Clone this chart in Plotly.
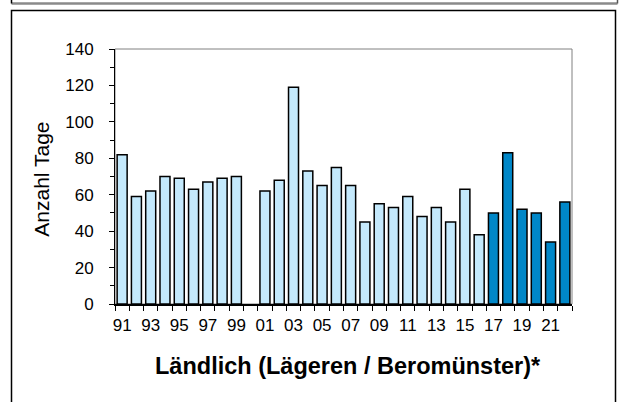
import plotly.graph_objects as go

years = [str(y) for y in range(1991, 2023)]
values = [82, 59, 62, 70, 69, 63, 67, 69, 70, None, 62, 68, 119, 73, 65, 75, 65, 45,
          55, 53, 59, 48, 53, 45, 63, 38, 50, 83, 52, 50, 34, 56]
tick_labels = [y[2:] if int(y) % 2 == 1 else "" for y in years]
split = 26  # 2017 onwards drawn in dark blue

LIGHT = "#C4E9FC"
DARK = "#0087C8"

light = [(x, v) for x, v in zip(years[:split], values[:split]) if v is not None]
dark = [(x, v) for x, v in zip(years[split:], values[split:]) if v is not None]

fig = go.Figure()
fig.add_trace(go.Bar(x=[p[0] for p in light], y=[p[1] for p in light],
                     marker=dict(color=LIGHT, line=dict(color="black", width=1.5))))
fig.add_trace(go.Bar(x=[p[0] for p in dark], y=[p[1] for p in dark],
                     marker=dict(color=DARK, line=dict(color="black", width=1.5))))

L, R, T, B = 115, 50, 49, 98
W, H = 622, 402
pw, ph = W - L - R, H - T - B

def px(x):
    return (x - L) / pw

def py(y):
    return (H - B - y) / ph

fig.update_layout(
    width=W, height=H,
    margin=dict(l=L, r=R, t=T, b=B, pad=0),
    plot_bgcolor="white", paper_bgcolor="white",
    showlegend=False, bargap=0.3, barmode="overlay",
    font=dict(family="Liberation Sans, Arial, sans-serif", size=17, color="black"),
    xaxis=dict(
        type="category", categoryorder="array", categoryarray=years,
        tickvals=years, ticktext=tick_labels, tickson="boundaries",
        ticks="outside", ticklen=5, tickcolor="black", tickwidth=1,
        showline=True, linecolor="black", linewidth=1.5, showgrid=False,
        tickangle=0, tickfont=dict(size=17), ticklabelstandoff=5,
        range=[-0.5, len(years) - 0.5],
    ),
    yaxis=dict(
        range=[0, 140], tickvals=list(range(0, 141, 20)),
        ticks="outside", ticklen=5, tickcolor="black", tickwidth=1,
        minor=dict(tickvals=list(range(10, 140, 20)), ticks="outside", ticklen=4, tickcolor="black", tickwidth=1, showgrid=False),
        showline=True, linecolor="black", linewidth=1, showgrid=False, zeroline=False,
        ticklabelstandoff=12, tickfont=dict(size=17),
    ),
    shapes=[
        dict(type="rect", xref="paper", yref="paper", x0=0, x1=1, y0=0, y1=1,
             line=dict(color="#808080", width=1), layer="below"),
        dict(type="rect", xref="paper", yref="paper", x0=px(11.5), x1=px(615.5), y0=py(410), y1=py(10.5),
             line=dict(color="black", width=1.5), layer="below"),
        dict(type="line", xref="paper", yref="paper", x0=px(11.5), x1=px(617.5), y0=py(3.5), y1=py(3.5),
             line=dict(color="#8a8a8a", width=2.5)),
        dict(type="line", xref="paper", yref="paper", x0=px(11.5), x1=px(11.5), y0=py(3.5), y1=py(-5),
             line=dict(color="black", width=1.5)),
        dict(type="line", xref="paper", yref="paper", x0=px(617.5), x1=px(617.5), y0=py(3.5), y1=py(-5),
             line=dict(color="#555555", width=1.5)),
    ],
    annotations=[
        dict(text="Anzahl Tage", xref="paper", yref="paper", x=px(40.7), y=py(179), textangle=-90,
             showarrow=False, xanchor="center", yanchor="middle", font=dict(size=21)),
        dict(text="<b>Ländlich (Lägeren / Beromünster)*</b>", xref="paper", yref="paper",
             x=px(348), y=py(366), showarrow=False, xanchor="center", yanchor="middle",
             font=dict(size=23.5)),
    ],
)

fig.write_html("out.html", config={"displayModeBar": False},
               post_script="document.body.style.margin='0';document.body.style.overflow='hidden';")
